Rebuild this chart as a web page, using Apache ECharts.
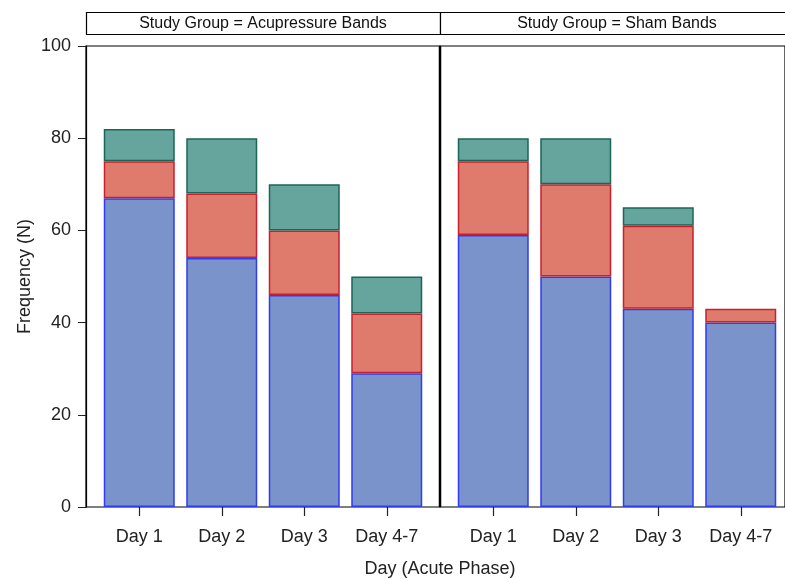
<!DOCTYPE html>
<html>
<head>
<meta charset="utf-8">
<script src="https://cdn.jsdelivr.net/npm/echarts@6/dist/echarts.min.js"></script>
<style>html,body{margin:0;padding:0;background:#fff}#c{width:785px;height:579px}</style>
</head>
<body>
<div id="c"></div>
<script>
var categories = ['Day 1', 'Day 2', 'Day 3', 'Day 4-7'];
var panelTitles = ['Study Group = Acupressure Bands', 'Study Group = Sham Bands'];
var acuBlue = [67, 54, 46, 29];
var acuRed  = [8, 14, 14, 13];
var acuTeal = [7, 12, 10, 8];
var shamBlue = [59, 50, 43, 40];
var shamRed  = [16, 20, 18, 3];
var shamTeal = [5, 10, 4, 0];
var yTicks = [0, 20, 40, 60, 80, 100];

var FONT = 'Liberation Sans, Arial, sans-serif';
var chart = echarts.init(document.getElementById('c'), null, {renderer: 'canvas'});

var colors = [
  {fill: '#7b93cb', stroke: '#2f3cf0'},
  {fill: '#de7b6c', stroke: '#c8202e'},
  {fill: '#66a59d', stroke: '#1b6655'}
];
function nz(a){ return a.map(function(v){ return v === 0 ? null : v; }); }
function barSeries(data, ci, xi, yi, stack){
  return {
    type: 'bar', stack: stack, xAxisIndex: xi, yAxisIndex: yi,
    data: nz(data), barWidth: 71, silent: true,
    itemStyle: {color: colors[ci].fill, borderColor: colors[ci].stroke, borderWidth: 1.5}
  };
}
var catAxis = function(gi){
  return {
    type: 'category', gridIndex: gi, data: categories,
    axisLine: {show: false},
    axisTick: {show: true, alignWithLabel: true, length: 9, lineStyle: {color: '#222', width: 1.2}},
    axisLabel: {fontSize: 18, color: '#222', fontFamily: FONT, margin: 21},
    splitLine: {show: false}
  };
};
var hiddenY = function(gi){ return {type: 'value', gridIndex: gi, min: 0, max: 100, show: false}; };
var hiddenX = function(gi){ return {type: 'value', gridIndex: gi, show: false}; };

var option = {
  animation: false,
  backgroundColor: '#fff',
  grid: [
    {left: 86, top: 46, width: 354, height: 461, show: true, borderColor: '#000', borderWidth: 1.2, backgroundColor: 'transparent'},
    {left: 440, top: 46, width: 360, height: 461, show: true, borderColor: '#000', borderWidth: 1.2, backgroundColor: 'transparent'},
    {left: 98, top: 46, width: 330, height: 461},
    {left: 452, top: 46, width: 330, height: 461}
  ],
  xAxis: [hiddenX(0), hiddenX(1), catAxis(2), catAxis(3)],
  yAxis: [
    {
      type: 'value', gridIndex: 0, min: yTicks[0], max: yTicks[yTicks.length - 1], interval: yTicks[1] - yTicks[0],
      axisLine: {show: true, lineStyle: {color: '#000', width: 1.2}},
      axisTick: {show: true, length: 8, lineStyle: {color: '#222'}},
      axisLabel: {fontSize: 18, color: '#222', fontFamily: FONT, margin: 15},
      splitLine: {show: false},
      name: 'Frequency (N)', nameLocation: 'middle', nameGap: 52, nameRotate: 90,
      nameTextStyle: {fontSize: 18, color: '#222', fontFamily: FONT}
    },
    hiddenY(1), hiddenY(2), hiddenY(3)
  ],
  series: [
    barSeries(acuBlue, 0, 2, 2, 'a'),
    barSeries(acuRed, 1, 2, 2, 'a'),
    barSeries(acuTeal, 2, 2, 2, 'a'),
    barSeries(shamBlue, 0, 3, 3, 's'),
    barSeries(shamRed, 1, 3, 3, 's'),
    barSeries(shamTeal, 2, 3, 3, 's')
  ],
  graphic: [
    {type: 'rect', shape: {x: 86.5, y: 12.5, width: 354, height: 22}, style: {fill: '#fff', stroke: '#000', lineWidth: 1.2}},
    {type: 'rect', shape: {x: 440.5, y: 12.5, width: 360, height: 22}, style: {fill: '#fff', stroke: '#000', lineWidth: 1.2}},
    {type: 'line', shape: {x1: 440, y1: 46, x2: 440, y2: 507}, style: {stroke: '#000', lineWidth: 2.5}},
    {type: 'text', x: 263, y: 24, style: {text: panelTitles[0], fontSize: 16, fontFamily: FONT, fill: '#111', align: 'center', verticalAlign: 'middle'}},
    {type: 'text', x: 617, y: 24, style: {text: panelTitles[1], fontSize: 16, fontFamily: FONT, fill: '#111', align: 'center', verticalAlign: 'middle'}},
    {type: 'text', x: 440, y: 569, style: {text: 'Day (Acute Phase)', fontSize: 18, fontFamily: FONT, fill: '#222', align: 'center', verticalAlign: 'middle'}}
  ]
};
chart.setOption(option);
</script>
</body>
</html>
